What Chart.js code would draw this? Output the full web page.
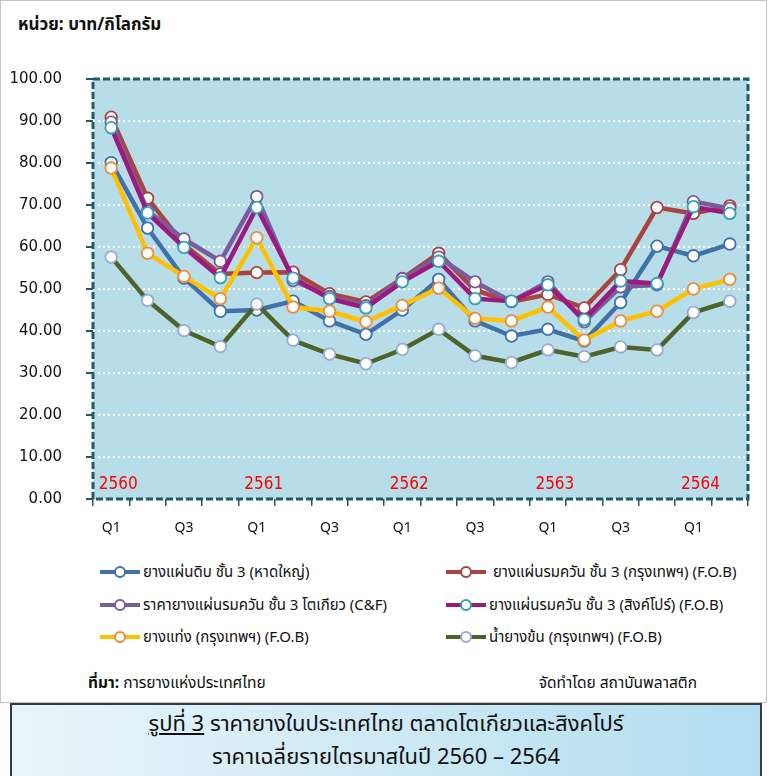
<!DOCTYPE html>
<html><head><meta charset="utf-8">
<script src="https://cdn.jsdelivr.net/npm/chart.js@4"></script>
<style>
html,body{margin:0;padding:0;background:#fff;}
body{width:771px;height:776px;position:relative;overflow:hidden;font-family:"Noto Sans Thai","Tahoma","DejaVu Sans",sans-serif;color:#111;}
#frame{position:absolute;left:0;top:0;width:767px;height:703px;border:1px solid #c4c4c4;box-sizing:border-box;}
#unit{position:absolute;left:18px;top:12px;font-size:17px;font-weight:bold;}
#cv{position:absolute;left:0;top:0;}
.leg{position:absolute;font-size:15px;display:flex;align-items:center;white-space:nowrap;height:20px;}
.sw{position:relative;width:40px;height:14px;margin-right:3px;}
.sw .ln{position:absolute;left:0;right:0;top:5px;height:4px;}
.sw .mk{position:absolute;left:14px;top:1px;width:8px;height:8px;border-radius:50%;background:#fff;border:2px solid;}
#src{position:absolute;left:88px;top:672px;font-size:15.5px;}
#by{position:absolute;right:74px;top:672px;font-size:15.5px;}
#title{position:absolute;left:10px;top:703px;width:752px;height:90px;box-sizing:border-box;border:2px solid #3a3a3a;background:linear-gradient(to right,#eaf5fa,#b2def0);text-align:center;font-size:22px;line-height:33px;padding-top:3px;}
</style>
</head><body>
<div id="frame"></div>
<div id="unit">หน่วย: บาท/กิโลกรัม</div>
<canvas id="cv" width="771" height="546"></canvas>
<div id="legend"></div>
<div id="src"><b>ที่มา:</b> การยางแห่งประเทศไทย</div>
<div id="by">จัดทำโดย สถาบันพลาสติก</div>
<div id="title"><u>รูปที่ 3</u> ราคายางในประเทศไทย ตลาดโตเกียวและสิงคโปร์<br>ราคาเฉลี่ยรายไตรมาสในปี 2560 – 2564</div>
<script>
const quarters = ['Q1','Q2','Q3','Q4','Q1','Q2','Q3','Q4','Q1','Q2','Q3','Q4','Q1','Q2','Q3','Q4','Q1','Q2'];
const years = ['2560','2561','2562','2563','2564'];
const yTicks = [0,10,20,30,40,50,60,70,80,90,100];

const seriesNames = [
  'ยางแผ่นดิบ ชั้น 3 (หาดใหญ่)',
  'ยางแผ่นรมควัน ชั้น 3 (กรุงเทพฯ) (F.O.B)',
  'ราคายางแผ่นรมควัน ชั้น 3 โตเกียว (C&F)',
  'ยางแผ่นรมควัน ชั้น 3 (สิงค์โปร์) (F.O.B)',
  'ยางแท่ง (กรุงเทพฯ) (F.O.B)',
  'น้ำยางข้น  (กรุงเทพฯ) (F.O.B)'
];
const rssHatYai   = [80.1, 64.5, 52.6, 44.7, 45.0, 47.1, 42.4, 39.2, 45.0, 52.3, 42.4, 38.8, 40.4, 37.6, 46.8, 60.2, 57.9, 60.7];
const rss3Bangkok = [90.9, 71.6, 60.6, 53.6, 53.9, 54.0, 48.9, 46.9, 52.5, 58.5, 49.7, 47.0, 48.7, 45.5, 54.6, 69.4, 68.0, 69.8];
const rss3Tokyo   = [89.7, 68.6, 61.9, 56.6, 72.0, 52.0, 48.2, 46.0, 52.4, 57.6, 51.7, 47.0, 51.7, 42.2, 50.5, 51.0, 70.8, 69.2];
const rss3Sing    = [88.4, 68.1, 59.9, 52.7, 69.4, 52.6, 47.7, 45.5, 51.7, 56.6, 47.7, 47.1, 51.0, 42.7, 51.9, 51.3, 69.6, 68.0];
const str20       = [78.8, 58.5, 53.0, 47.7, 62.2, 45.7, 44.7, 42.2, 46.1, 50.2, 43.0, 42.4, 45.7, 37.8, 42.4, 44.7, 50.0, 52.3];
const latex       = [57.6, 47.3, 40.1, 36.3, 46.4, 37.8, 34.5, 32.2, 35.6, 40.4, 34.1, 32.5, 35.5, 33.9, 36.2, 35.5, 44.4, 47.1];

const lineColors   = ['#4271AA','#A9443F','#7A5B9C','#9C1A80','#FFC000','#4F6228'];
const markerColors = ['#4271AA','#A9443F','#7A5B9C','#2FA3B8','#EE8A3A','#97A9D6'];
const allData = [rssHatYai, rss3Bangkok, rss3Tokyo, rss3Sing, str20, latex];

const FONT = '"Noto Sans Thai","Tahoma","DejaVu Sans",sans-serif';

// HTML legend
const legPos = [[100,562],[446,562],[100,595],[446,595],[100,627],[446,627]];
const legEl = document.getElementById('legend');
seriesNames.forEach((n,i)=>{
  const d = document.createElement('div');
  d.className='leg';
  d.style.left = legPos[i][0]+'px'; d.style.top = legPos[i][1]+'px';
  d.innerHTML = '<div class="sw"><div class="ln" style="background:'+lineColors[i]+'"></div><div class="mk" style="border-color:'+markerColors[i]+'"></div></div><span>'+(i===1?'&nbsp;':'')+n+'</span>';
  legEl.appendChild(d);
});

const plotDeco = {
  id:'plotDeco',
  beforeDraw(chart){
    const a = chart.chartArea, c = chart.ctx;
    c.save(); c.fillStyle='#B7DDE8'; c.fillRect(a.left,a.top,a.right-a.left,a.bottom-a.top); c.restore();
  },
  beforeDatasetsDraw(chart){
    const a = chart.chartArea, c = chart.ctx, xs = chart.scales.x;
    c.save();
    c.strokeStyle='#215968'; c.lineWidth=3; c.setLineDash([7,3]);
    c.strokeRect(a.left,a.top,a.right-a.left,a.bottom-a.top);
    c.setLineDash([]);
    c.fillStyle='#FF0000'; c.font='17px "DejaVu Sans Condensed","DejaVu Sans",sans-serif'; c.textAlign='center'; c.textBaseline='middle';
    years.forEach((y,i)=>{ c.fillText(y, xs.getPixelForValue(i*4)+7, 485); });
    c.restore();
  }
};

new Chart(document.getElementById('cv'),{
  type:'line',
  data:{
    labels: quarters,
    datasets: allData.map((d,i)=>({
      label: seriesNames[i], data: d,
      borderColor: lineColors[i], backgroundColor:'#fff',
      borderWidth: 4.5, pointRadius: 5.8, pointBorderWidth: 1.8,
      pointBackgroundColor:'#fff', pointBorderColor: markerColors[i],
      tension:0, order: 6-i
    }))
  },
  options:{
    responsive:false, animation:false, devicePixelRatio:1,
    layout:{padding:{top:79,right:23,left:0,bottom:0}},
    plugins:{legend:{display:false},tooltip:{enabled:false}},
    scales:{
      x:{
        offset:true,
        grid:{display:true, drawOnChartArea:false, drawTicks:true, tickLength:7, color:'#215968', lineWidth:1.5, offset:true},
        border:{display:false},
        ticks:{autoSkip:false, maxRotation:0, padding:15, color:'#111', font:{family:FONT,size:14},
          callback:(v,i)=> (quarters[i]==='Q1'||quarters[i]==='Q3') ? quarters[i] : ''},
        afterFit:s=>{s.height=47;}
      },
      y:{
        min:0, max:100,
        afterBuildTicks:s=>{s.ticks = yTicks.map(v=>({value:v}));},
        ticks:{padding:24, color:'#111', font:{family:'"DejaVu Sans",sans-serif',size:15}, callback:v=>Number(v).toFixed(2)},
        grid:{drawTicks:true, tickLength:7, tickColor:'#215968', tickWidth:2, lineWidth:2, color:ctx=> (ctx.tick && (ctx.tick.value===0||ctx.tick.value===100)) ? 'rgba(0,0,0,0)' : '#ffffff'},
        border:{display:false, dash:[2,3]},
        afterFit:s=>{s.width=93;}
      }
    }
  },
  plugins:[plotDeco]
});
</script>
</body></html>
